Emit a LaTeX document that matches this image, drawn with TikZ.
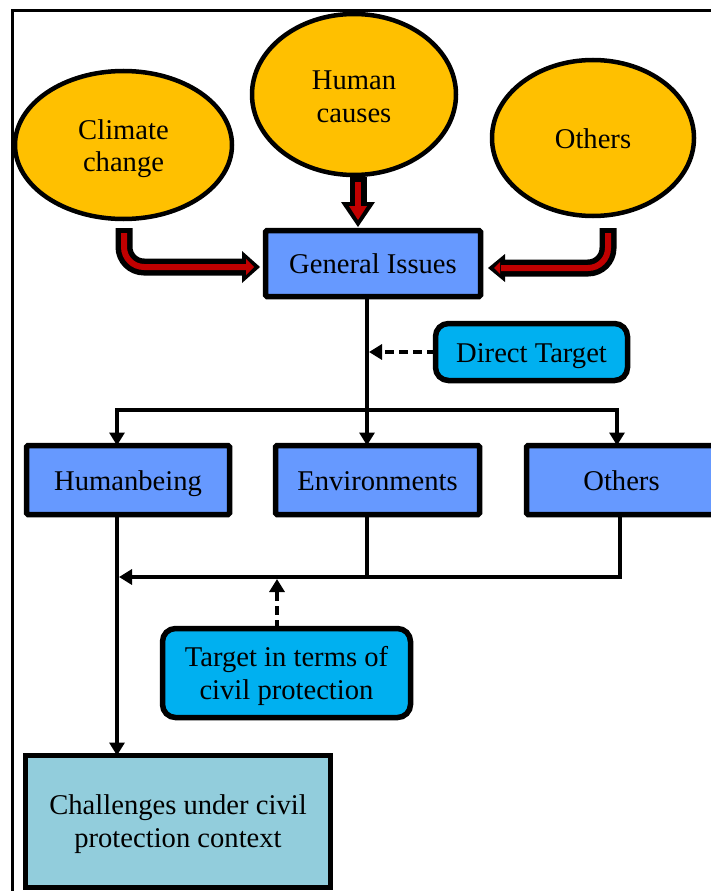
\documentclass[tikz,border=0pt]{standalone}
\usepackage{fontspec}
\setmainfont{Liberation Serif}
\usetikzlibrary{arrows.meta,shapes.geometric,calc}
\definecolor{orng}{HTML}{FFC000}
\definecolor{redd}{HTML}{C00000}
\definecolor{bbox}{HTML}{6699FF}
\definecolor{cyanb}{HTML}{00B0F0}
\definecolor{chalc}{HTML}{92CDDC}
\begin{document}
\begin{tikzpicture}[x=1pt,y=-1pt,
  every node/.style={font=\fontsize{28.6}{32.5}\selectfont, align=center, inner sep=0pt, outer sep=0pt},
  oneline/.style={text height=26pt, text depth=6pt},
  oval/.style={ellipse, draw, line width=4.5pt, fill=orng},
  bluebox/.style={rectangle, draw, line width=5.5pt, fill=bbox, rounded corners=1.5pt, oneline},
  tagbox/.style={rectangle, draw, line width=5.5pt, fill=cyanb, rounded corners=13pt},
  conn/.style={line width=4.5pt, -{Triangle[length=13pt,width=15pt]}},
  plainline/.style={line width=4.5pt},
  dashconn/.style={line width=4.5pt, dash pattern=on 9pt off 5pt, -{Triangle[length=13pt,width=15pt]}},
  fatblack/.style={line width=17pt, black, rounded corners=20pt},
  fatred/.style={line width=6pt, redd, rounded corners=20pt},
]
\useasboundingbox (0,0) rectangle (711,891);
\clip (0,0) rectangle (711,891);
\fill[white] (0,0) rectangle (711,891);

% frame
\draw[line width=3pt] (12,900) -- (12,11) -- (720,11);

% ellipses
\node[oval, minimum width=217pt, minimum height=148pt] (cc) at (123.5,145) {\rule{0pt}{27.5pt}Climate\\change};
\node[oval, minimum width=204pt, minimum height=161pt] (hc) at (354,94.5) {\rule{0pt}{23pt}Human\\causes};
\node[oval, minimum width=202pt, minimum height=156pt, oneline] (oe) at (593,138) {Others};

% boxes
\node[bluebox, minimum width=215pt, minimum height=66pt] (gen) at (373,263.5) {General Issues};
\node[tagbox, minimum width=192pt, minimum height=57pt, oneline] (dt) at (531.5,352) {Direct Target};
\node[bluebox, minimum width=203pt, minimum height=69pt] (hum) at (128,480) {Humanbeing};
\node[bluebox, minimum width=204pt, minimum height=69pt] (env) at (377.5,480) {Environments};
\node[bluebox, minimum width=190pt, minimum height=69pt] (oth) at (621.5,480) {Others};
\node[tagbox, minimum width=248pt, minimum height=89pt] (tgt) at (286.5,673) {\rule{0pt}{26.5pt}Target in terms of\\civil protection};
\node[rectangle, draw, line width=5.5pt, fill=chalc, minimum width=305pt, minimum height=132pt] (chal) at (178,821.5) {\rule{0pt}{25pt}Challenges under civil\\protection context};

% helper coordinates
\coordinate (sp) at (367,0);
\coordinate (hx) at (117,0);
\coordinate (ox) at (617,0);
\coordinate (ox2) at (620,0);
\coordinate (tx) at (277,0);
\coordinate (by) at (0,410);
\coordinate (jy) at (0,577);

% fat red arrows: black layer
\draw[fatblack] (124,228) -- (124,267) -- (243,267);
\fill[black] (260,267) -- (242,251) -- (242,283) -- cycle;
\draw[fatblack] (358,177) -- (358,203);
\fill[black] (358,227) -- (341,202) -- (375,202) -- cycle;
\draw[fatblack] (608,228) -- (608,268) -- (504,268);
\fill[black] (488,268) -- (505,254) -- (505,282) -- cycle;
% red layer
\draw[fatred] (124,233) -- (124,267) -- (247,267);
\fill[redd] (254,267) -- (246,259) -- (246,275) -- cycle;
\draw[fatred] (358,182) -- (358,207);
\fill[redd] (358,220) -- (349,206) -- (367,206) -- cycle;
\draw[fatred] (608,233) -- (608,268) -- (501,268);
\fill[redd] (494,268) -- (500,262) -- (500,274) -- cycle;

% connectors
\draw[conn] (gen.south -| sp) -- (env.north -| sp);
\draw[conn] (sp |- by) -| (hum.north -| hx);
\draw[conn] (sp |- by) -| (oth.north -| ox);
\draw[dashconn] (dt.west) -- ($(dt.west -| sp)+(2,0)$);

\draw[conn] (hum.south -| hx) -- (chal.north -| hx);
\draw[plainline] (env.south -| sp) -- (sp |- jy);
\draw[conn] (oth.south -| ox2) |- ($(hx |- jy)+(2,0)$);
\draw[dashconn] (tgt.north -| tx) -- ($(tx |- jy)+(0,2)$);
\end{tikzpicture}
\end{document}
